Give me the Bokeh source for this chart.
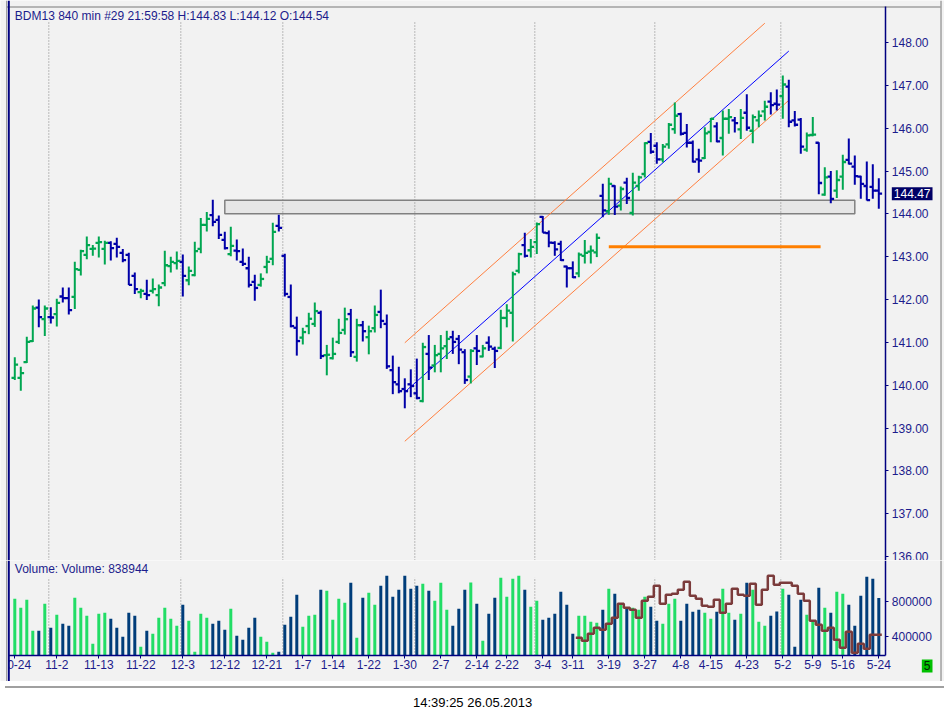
from bokeh.plotting import figure
from bokeh.models import Range1d, FixedTicker, Label, Div, NumeralTickFormatter, Span, BoxAnnotation
from bokeh.layouts import column
from bokeh.embed import file_html
from bokeh.resources import INLINE

# ---------------- data ----------------
title_text = "BDM13  840 min  #29 21:59:58 H:144.83 L:144.12 O:144.54"
volume_text = "Volume:  Volume: 838944"
timestamp_text = "14:39:25 26.05.2013"
last_price = 144.47
period_label = "5"

opens = [140.17, 140.17, 140.54, 141.03, 141.81, 141.54, 141.59, 141.66, 142.07, 142.03,
         142.06, 142.69, 143.04, 143.18, 143.32, 143.18, 143.32, 143.30, 143.09, 143.04,
         142.55, 142.17, 142.13, 142.20, 142.10, 142.38, 142.78, 142.85, 142.88, 142.45,
         142.57, 143.18, 143.74, 143.97, 143.86, 143.39, 143.06, 143.14, 142.88, 142.73,
         142.41, 142.34, 142.76, 142.95, 143.72, 143.02, 142.06, 141.34, 141.11, 141.38,
         141.43, 141.69, 140.70, 140.63, 141.01, 141.29, 141.66, 140.66, 141.40, 141.12,
         141.33, 141.71, 141.43, 140.35, 140.02, 139.91, 140.02, 139.81, 139.63, 140.73,
         140.46, 140.73, 140.91, 141.12, 141.08, 140.77, 140.20, 140.86, 140.67, 140.99,
         140.85, 140.87, 141.57, 141.69, 142.67, 143.27, 143.15, 143.34, 143.93, 143.55,
         143.32, 143.30, 142.77, 142.73, 142.61, 143.02, 143.12, 143.10, 144.42, 144.06,
         144.65, 144.19, 144.73, 144.02, 144.65, 144.93, 145.68, 145.59, 145.27, 145.62,
         145.98, 146.33, 145.89, 145.66, 145.27, 145.30, 145.91, 146.04, 145.77, 146.22,
         146.18, 145.97, 146.36, 145.94, 146.18, 146.39, 146.62, 146.57, 146.75, 146.97,
         146.18, 146.20, 145.50, 145.84, 145.66, 144.45, 144.87, 144.54, 144.87, 145.26,
         145.10, 144.87, 144.65, 144.63, 144.54]
highs = [140.65, 140.43, 141.13, 141.86, 142.00, 141.86, 141.82, 142.02, 142.28, 142.28,
         142.88, 143.16, 143.47, 143.27, 143.47, 143.37, 143.36, 143.44, 143.18, 143.09,
         142.63, 142.25, 142.46, 142.49, 142.35, 143.14, 143.00, 143.12, 143.05, 142.77,
         143.35, 143.90, 144.04, 144.33, 143.96, 143.58, 143.70, 143.40, 143.19, 143.00,
         142.58, 142.61, 143.02, 143.79, 143.98, 143.07, 142.35, 141.60, 141.34, 141.69,
         141.93, 141.74, 140.94, 141.11, 141.55, 141.81, 141.78, 141.55, 141.50, 141.39,
         141.86, 142.23, 141.65, 140.69, 140.43, 140.16, 140.37, 140.62, 140.99, 141.17,
         140.94, 141.17, 141.27, 141.27, 141.17, 140.84, 140.84, 141.17, 140.94, 141.14,
         140.90, 141.76, 141.89, 142.65, 143.09, 143.56, 143.41, 143.80, 143.95, 143.61,
         143.36, 143.37, 142.79, 142.89, 143.10, 143.39, 143.26, 143.54, 144.70, 144.84,
         144.67, 144.64, 144.84, 144.96, 144.89, 145.67, 145.89, 145.67, 145.63, 146.12,
         146.60, 146.36, 146.10, 145.71, 145.52, 146.02, 146.24, 146.14, 146.41, 146.45,
         146.26, 146.45, 146.79, 146.32, 146.41, 146.64, 146.84, 146.90, 147.23, 147.13,
         146.40, 146.24, 145.90, 146.26, 145.67, 145.09, 145.00, 145.02, 145.38, 145.76,
         145.36, 144.89, 145.22, 145.16, 144.83]
lows = [140.12, 139.87, 140.52, 141.01, 141.35, 141.15, 141.44, 141.37, 141.93, 141.65,
        141.78, 142.56, 142.94, 143.02, 142.98, 142.82, 142.91, 142.98, 142.87, 142.34,
        142.13, 142.03, 141.99, 142.14, 141.84, 142.31, 142.63, 142.70, 142.07, 142.33,
        142.54, 143.08, 143.59, 143.71, 143.41, 143.17, 143.01, 142.91, 142.78, 142.28,
        141.97, 142.30, 142.61, 142.80, 143.59, 142.07, 141.35, 140.69, 140.95, 141.19,
        141.36, 140.61, 140.23, 140.60, 140.96, 141.18, 140.66, 140.55, 141.02, 140.72,
        141.23, 141.33, 140.38, 139.79, 139.81, 139.46, 139.72, 139.67, 139.60, 140.12,
        140.30, 140.30, 140.61, 140.73, 140.49, 140.03, 140.04, 140.47, 140.65, 140.80,
        140.40, 140.84, 141.35, 141.02, 142.61, 142.98, 142.98, 143.06, 143.56, 143.22,
        143.02, 142.90, 142.28, 142.50, 142.52, 142.84, 142.84, 142.99, 143.92, 143.98,
        143.97, 144.08, 144.23, 143.96, 144.54, 144.85, 145.40, 145.17, 145.20, 145.52,
        145.87, 145.83, 145.55, 145.20, 144.96, 145.28, 145.67, 145.67, 145.36, 145.87,
        145.90, 145.75, 145.94, 145.65, 146.02, 146.18, 146.32, 146.41, 146.22, 146.02,
        146.04, 145.40, 145.45, 145.81, 144.46, 144.42, 144.25, 144.37, 144.56, 145.15,
        144.68, 144.35, 144.31, 144.35, 144.12]
closes = [140.48, 140.28, 141.01, 141.79, 141.59, 141.79, 141.58, 141.92, 142.03, 141.75,
          142.71, 143.13, 143.27, 143.19, 143.34, 143.32, 143.20, 143.23, 142.92, 142.34,
          142.24, 142.20, 142.10, 142.24, 142.28, 142.80, 142.88, 142.90, 142.55, 142.67,
          143.13, 143.74, 143.88, 143.81, 143.51, 143.20, 143.25, 143.13, 142.83, 142.34,
          142.27, 142.48, 142.88, 143.58, 143.67, 142.13, 141.38, 141.03, 141.24, 141.55,
          141.73, 140.68, 140.71, 140.73, 141.22, 141.54, 140.77, 141.40, 141.26, 141.26,
          141.64, 141.50, 140.44, 140.07, 139.86, 139.86, 139.98, 139.70, 140.89, 140.41,
          140.70, 140.86, 141.08, 141.01, 140.83, 140.12, 140.80, 140.80, 140.86, 140.90,
          140.80, 141.57, 141.74, 142.59, 143.06, 143.02, 143.23, 143.76, 143.56, 143.33,
          143.17, 142.92, 142.73, 142.52, 143.05, 143.09, 143.14, 143.44, 144.08, 144.70,
          144.17, 144.58, 144.37, 144.73, 144.85, 145.65, 145.45, 145.27, 145.57, 146.08,
          146.29, 145.87, 145.66, 145.22, 145.24, 145.88, 146.22, 145.69, 146.22, 146.26,
          146.12, 146.24, 146.01, 146.26, 146.29, 146.50, 146.54, 146.55, 147.02, 146.15,
          146.08, 145.57, 145.83, 145.85, 144.72, 144.85, 144.35, 144.79, 145.21, 145.17,
          144.88, 144.70, 144.32, 144.54, 144.47]
volumes = [830000, 728000, 819000, 465000, 465000, 773000, 499000, 648000, 545000, 522000,
           842000, 728000, 636000, 316000, 659000, 671000, 602000, 499000, 396000, 671000,
           636000, 282000, 465000, 430000, 613000, 728000, 602000, 522000, 762000, 579000,
           225000, 659000, 613000, 545000, 579000, 476000, 716000, 408000, 362000, 499000,
           613000, 396000, 339000, 213000, 225000, 533000, 625000, 876000, 510000, 636000,
           648000, 933000, 922000, 590000, 830000, 785000, 1013000, 385000, 842000, 899000,
           762000, 979000, 1093000, 853000, 933000, 1093000, 945000, 979000, 1002000, 922000,
           808000, 1013000, 705000, 522000, 716000, 933000, 1017000, 773000, 350000, 659000,
           842000, 1071000, 853000, 1059000, 1093000, 933000, 739000, 808000, 590000, 613000,
           659000, 911000, 762000, 430000, 636000, 636000, 568000, 556000, 705000, 945000,
           888000, 762000, 728000, 728000, 705000, 853000, 739000, 579000, 545000, 773000,
           830000, 579000, 773000, 682000, 705000, 671000, 602000, 682000, 945000, 671000,
           590000, 659000, 1013000, 933000, 568000, 522000, 636000, 686000, 945000, 876000,
           282000, 819000, 648000, 579000, 956000, 728000, 671000, 911000, 888000, 762000,
           522000, 865000, 1082000, 1059000, 838944]
vol_ma_first_bar = 95
vol_ma = [385000, 350000, 430000, 499000, 476000, 545000, 613000, 773000, 728000, 705000,
          613000, 808000, 853000, 979000, 773000, 876000, 888000, 933000, 1025000, 865000,
          830000, 750000, 739000, 819000, 671000, 773000, 945000, 876000, 865000, 1002000,
          762000, 933000, 1093000, 990000, 1013000, 1013000, 979000, 888000, 808000, 579000,
          533000, 465000, 499000, 362000, 270000, 453000, 213000, 316000, 259000, 419000, 419000]

tick_bars = [1, 8, 15, 22, 29, 36, 43, 49, 54, 60, 66, 72, 78, 83, 89, 94, 100, 106, 112,
             117, 123, 129, 134, 139, 145]
tick_labels = ["10-24", "11-2", "11-13", "11-22", "12-3", "12-12", "12-21", "1-7", "1-14",
               "1-22", "1-30", "2-7", "2-14", "2-22", "3-4", "3-11", "3-19", "3-27", "4-8",
               "4-15", "4-23", "5-2", "5-9", "5-16", "5-24"]
month_start_bars = [7, 29, 46, 68, 88, 108, 129]
price_ticks = [136, 137, 138, 139, 140, 141, 142, 143, 144, 145, 146, 147, 148]
volume_ticks = [400000, 800000]

# trend channel and levels
chan_mid_x = [66, 130]
chan_mid_y = [139.84, 147.80]
chan_up_x = [66, 126]
chan_up_y = [140.99, 148.45]
chan_lo_x = [66, 130]
chan_lo_y = [138.69, 146.65]
support_x = [100, 135.3]
support_y = 143.23
zone_x = [36, 141]
zone_y = [144.00, 144.32]

# ---------------- style / frame geometry ----------------
BG = "#f2f2f2"
NAVY = "#000080"
TXT = "#1c1c8c"
FRAME = "#a0a0a0"
UP = "#00a651"
DOWN = "#0000a8"
VUP = "#22dd66"
VDOWN = "#003d7a"
FONT = "Liberation Sans"

n = len(closes)
bars = list(range(1, n + 1))
up = [c >= o for o, c in zip(opens, closes)]
pcol = [UP if u else DOWN for u in up]
vcol = [VUP if u else VDOWN for u in up]

# x range covers the whole canvas (6 px per bar)
X0, X1 = -1.383, 155.95
X_LEFT = 0.0        # left navy border
X_AXIS = 146.17     # right price/volume axis
X_FRAME_L = -0.383  # outer gray frame
X_FRAME_R = 155.37
# price panel (canvas 0..560 px)
P0, P1 = 135.9066, 148.9806
P_GRID_TOP = 148.467
P_FRAME_TOP = 148.83
# volume panel (canvas 560..681 px)
V0, V1 = -114286, 1268571
V_BASE = 182857
V_GRID_TOP = 1075000

x_range = Range1d(X0, X1)


def style_axis(ax):
    ax.axis_line_color = NAVY
    ax.axis_line_width = 1.5
    ax.major_tick_line_color = NAVY
    ax.major_tick_out = 3
    ax.major_tick_in = 0
    ax.minor_tick_line_color = None
    ax.major_label_text_color = TXT
    ax.major_label_text_font = FONT
    ax.major_label_text_font_size = "12px"
    ax.major_label_standoff = 3


def frame_lines(fig, mask=False):
    if mask:
        fig.add_layout(BoxAnnotation(right=X_LEFT, fill_color=BG, fill_alpha=1.0,
                                     line_color=None))
    fig.add_layout(Span(location=X_FRAME_L, dimension="height", line_color=FRAME, line_width=1))
    fig.add_layout(Span(location=X_FRAME_R, dimension="height", line_color=FRAME, line_width=1.5))
    fig.add_layout(Span(location=X_LEFT, dimension="height", line_color=NAVY, line_width=2))


# ---------------- price panel ----------------
p = figure(width=944, height=560, x_range=x_range, y_range=Range1d(P0, P1),
           output_backend="svg", toolbar_location=None, x_axis_location=None,
           y_axis_location="right", min_border=0, background_fill_color=BG,
           border_fill_color=BG, outline_line_color=None)
p.xgrid.visible = False
p.ygrid.visible = False
style_axis(p.yaxis[0])
p.yaxis[0].fixed_location = X_AXIS
p.yaxis[0].ticker = FixedTicker(ticks=price_ticks)
p.yaxis[0].formatter = NumeralTickFormatter(format="0.00")
p.yaxis[0].bounds = (P0, P_FRAME_TOP)

p.segment(x0=[X_FRAME_L], y0=[P_FRAME_TOP], x1=[X_FRAME_R], y1=[P_FRAME_TOP],
          line_color=FRAME, line_width=1.5)
frame_lines(p)

p.quad(left=zone_x[0], right=zone_x[1], bottom=zone_y[0], top=zone_y[1],
       fill_color="#e6e6e6", line_color="#808080", line_width=1.5)
mx = [b - 0.33 for b in month_start_bars]
p.segment(x0=mx, y0=[P0] * len(mx), x1=mx, y1=[P_GRID_TOP] * len(mx),
          line_color="#808080", line_dash="1 2", line_width=1)
p.line(chan_up_x, chan_up_y, line_color="#ff7f3f", line_width=1)
p.line(chan_lo_x, chan_lo_y, line_color="#ff7f3f", line_width=1)
p.line(chan_mid_x, chan_mid_y, line_color="#0000ff", line_width=1)
p.line(support_x, [support_y, support_y], line_color="#ff7f00", line_width=3)

p.segment(x0=bars, y0=lows, x1=bars, y1=highs, line_color=pcol, line_width=2)
p.segment(x0=[b - 0.55 for b in bars], y0=opens, x1=bars, y1=opens, line_color=pcol, line_width=2.3)
p.segment(x0=bars, y0=closes, x1=[b + 0.55 for b in bars], y1=closes, line_color=pcol, line_width=2.3)

p.add_layout(Label(x=X_LEFT, y=P1, x_offset=6, y_offset=-15, text=title_text,
                   text_baseline="middle", text_font=FONT, text_font_size="12px",
                   text_color=TXT))
p.add_layout(Label(x=X_AXIS, y=last_price, x_offset=6, text=f"{last_price:.2f}",
                   text_baseline="middle", text_font=FONT, text_font_size="12px",
                   text_color="white", background_fill_color="#000066", padding=2))

# ---------------- volume panel ----------------
v = figure(width=944, height=121, x_range=x_range, y_range=Range1d(V0, V1),
           output_backend="svg", toolbar_location=None, x_axis_location="below",
           y_axis_location="right", min_border=0, background_fill_color=BG,
           border_fill_color=BG, outline_line_color=None)
v.xgrid.visible = False
v.ygrid.visible = False
style_axis(v.yaxis[0])
v.yaxis[0].fixed_location = X_AXIS
v.yaxis[0].bounds = (V_BASE, V1)
v.yaxis[0].ticker = FixedTicker(ticks=volume_ticks)
v.yaxis[0].formatter = NumeralTickFormatter(format="0")
style_axis(v.xaxis[0])
v.xaxis[0].fixed_location = V_BASE
v.xaxis[0].bounds = (X_LEFT, X_AXIS)
v.xaxis[0].ticker = FixedTicker(ticks=tick_bars)
v.xaxis[0].major_label_overrides = dict(zip(tick_bars, tick_labels))
v.xaxis[0].major_label_standoff = 2
frame_lines(v, mask=True)

v.segment(x0=mx, y0=[V_BASE] * len(mx), x1=mx, y1=[V_GRID_TOP] * len(mx),
          line_color="#808080", line_dash="1 2", line_width=1)
v.vbar(x=bars, bottom=V_BASE, top=volumes, width=0.5, fill_color=vcol, line_color=None)
ma_bars = list(range(vol_ma_first_bar, vol_ma_first_bar + len(vol_ma)))
v.step(x=[b - 0.5 for b in ma_bars] + [ma_bars[-1] + 0.5], y=vol_ma + [vol_ma[-1]],
       mode="after", line_color="#7b3b3b", line_width=2.5)
v.add_layout(Label(x=X_LEFT, y=V1, x_offset=6, y_offset=-8, text=volume_text,
                   text_baseline="middle", text_font=FONT, text_font_size="12px",
                   text_color=TXT))
v.add_layout(Label(x=X_AXIS, y=V_BASE, x_offset=36, y_offset=-4, text=period_label,
                   text_baseline="top", text_font=FONT, text_font_size="12px",
                   text_color="#002200", background_fill_color="#00c000", padding=2))

sep = Div(width=944, height=2, styles={"background-color": FRAME})
stamp = Div(text=timestamp_text, width=944, height=24,
            styles={"text-align": "left", "padding-left": "408px", "font-family": FONT,
                    "font-size": "13px", "color": "black", "position": "relative",
                    "top": "-4px"})

layout = column(p, v, sep, stamp, spacing=0)
open("out.html", "w").write(file_html(layout, INLINE))
